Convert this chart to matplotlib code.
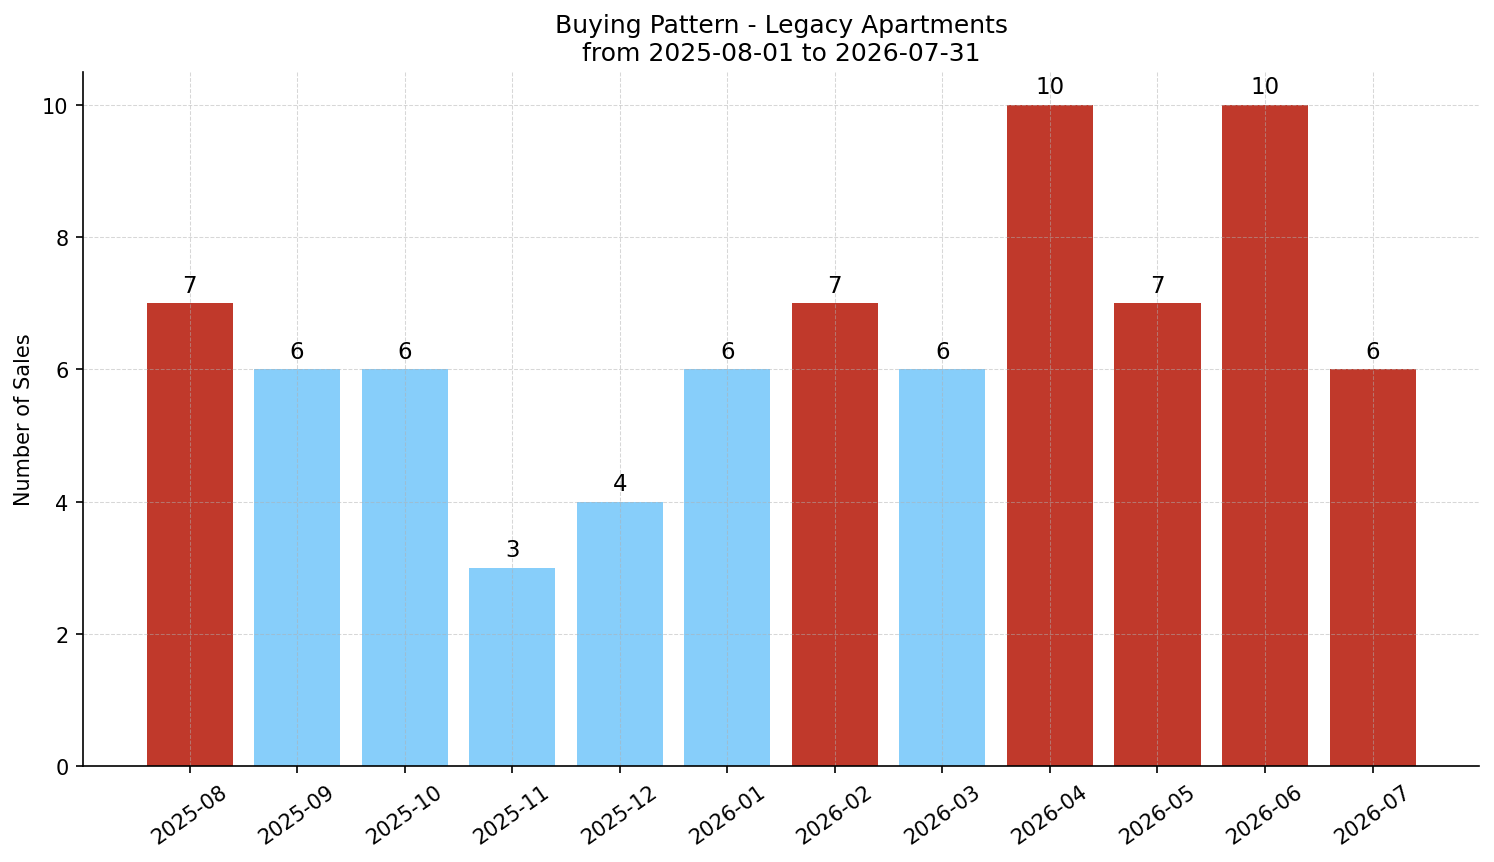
import matplotlib
matplotlib.use('Agg')
import matplotlib.pyplot as plt

# 월별 판매 수
months = ['2025-08', '2025-09', '2025-10', '2025-11', '2025-12', '2026-01',
          '2026-02', '2026-03', '2026-04', '2026-05', '2026-06', '2026-07']
sales = [7, 6, 6, 3, 4, 6, 7, 6, 10, 7, 10, 6]
highlight = [True, False, False, False, False, False, True, False, True, True, True, True]

RED = '#c0392b'
BLUE = '#87cefa'
colors = [RED if h else BLUE for h in highlight]

fig, ax = plt.subplots(figsize=(9.96, 5.753), dpi=150)
bars = ax.bar(months, sales, color=colors, width=0.8)

for bar, v in zip(bars, sales):
    ax.text(bar.get_x() + bar.get_width() / 2, v + 0.1, str(v),
            ha='center', va='bottom', fontsize=11)

ax.set_title('Buying Pattern - Legacy Apartments\nfrom 2025-08-01 to 2026-07-31', fontsize=12)
ax.set_ylabel('Number of Sales', fontsize=10)
ax.tick_params(axis='both', labelsize=10)
plt.setp(ax.get_xticklabels(), rotation=35)
ax.grid(True, linestyle='--', linewidth=0.5, alpha=0.5)
ax.spines['top'].set_visible(False)
ax.spines['right'].set_visible(False)

# 여백 맞추기
fig.subplots_adjust(left=0.0556, right=0.99, top=0.9154, bottom=0.1112)
plt.savefig('out.png', dpi=150)
